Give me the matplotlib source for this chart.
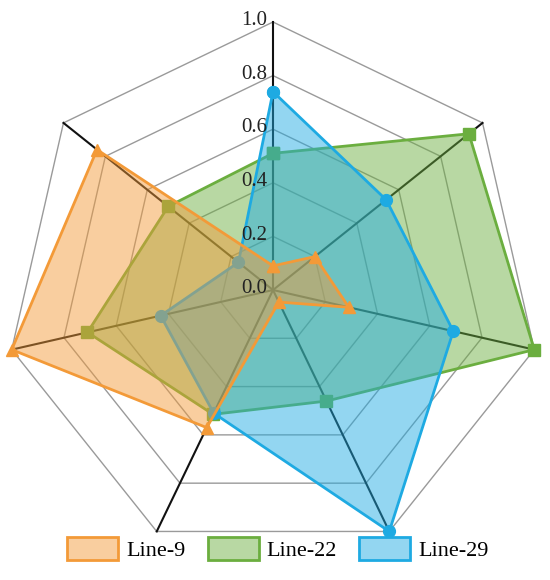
import numpy as np
import matplotlib
matplotlib.use("Agg")
import matplotlib.pyplot as plt
import matplotlib.colors as mc
from matplotlib.patches import Patch

categories = ["A1", "A2", "A3", "A4", "A5", "A6", "A7"]
series_names = ["Line-9", "Line-22", "Line-29"]
line9 = [0.09, 0.20, 0.29, 0.05, 0.57, 1.00, 0.84]
line22 = [0.51, 0.935, 1.00, 0.46, 0.515, 0.71, 0.50]
line29 = [0.74, 0.54, 0.69, 1.00, 0.51, 0.43, 0.165]
r_ticks = [0.0, 0.2, 0.4, 0.6, 0.8, 1.0]
r_tick_labels = ["0.0", "0.2", "0.4", "0.6", "0.8", "1.0"]

colors = {"Line-9": "#F39A38", "Line-22": "#6BAE3F", "Line-29": "#1EAAE2"}
markers = {"Line-9": "^", "Line-22": "s", "Line-29": "o"}
zorders = {"Line-9": 6, "Line-22": 4, "Line-29": 5}
data = {"Line-9": line9, "Line-22": line22, "Line-29": line29}

plt.rcParams['font.family'] = ['Liberation Serif', 'DejaVu Serif']

fig = plt.figure(figsize=(5.5, 5.8), dpi=100)
ax = fig.add_axes([5/550, 22/580, 536/550, 536/580], projection='polar')
ax.set_theta_offset(np.pi/2)
ax.set_theta_direction(-1)
n = len(categories)
theta = np.arange(n) * 2*np.pi/n
theta_c = np.concatenate([theta, theta[:1]])

ax.set_ylim(0, 1.0)
ax.grid(False)
ax.spines['polar'].set_visible(False)
ax.set_xticks([])
ax.set_yticks([])
ax.patch.set_alpha(0)

# heptagon gridlines
for r in r_ticks[1:]:
    ax.plot(theta_c, [r]*(n+1), color="#9a9a9a", lw=1.0, zorder=1, clip_on=False)
# spokes
for t in theta:
    ax.plot([t, t], [0, 1.0], color="#111111", lw=1.5, zorder=2, clip_on=False)

for name in series_names:
    vals = data[name]
    v = np.concatenate([vals, vals[:1]])
    c = colors[name]
    z = zorders[name]
    ax.fill(theta_c, v, color=c, alpha=0.48, zorder=z, lw=0)
    ax.plot(theta_c, v, color=c, lw=2.0, zorder=z, marker=markers[name],
            markersize=8.5, clip_on=False)

for r, lab in zip(r_ticks, r_tick_labels):
    ax.annotate(lab, xy=(0, r), xytext=(-4, 1), textcoords='offset points',
                ha='right', va='center', fontsize=15, color="#222222", zorder=10)

handles = []
for s in series_names:
    fc = mc.to_rgba(colors[s], 0.48)
    handles.append(Patch(facecolor=fc, edgecolor=colors[s], lw=2))
fig.legend(handles, series_names, loc='center', bbox_to_anchor=(0.505, 0.053), ncol=3,
           frameon=False, fontsize=16, handlelength=2.3, handleheight=1.15,
           handletextpad=0.35, columnspacing=1.0)

fig.savefig("out.png", dpi=100)
